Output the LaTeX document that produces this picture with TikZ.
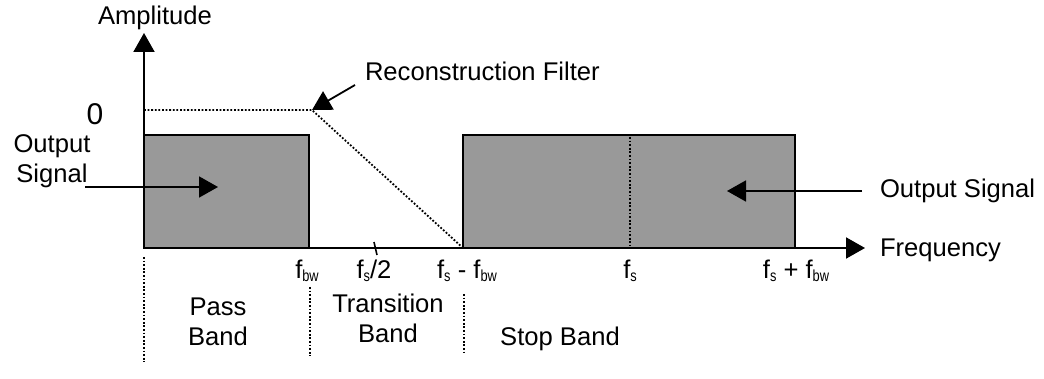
\documentclass[tikz,border=0pt]{standalone}
\usepackage{fontspec}
\setmainfont{Liberation Sans}
\usetikzlibrary{arrows.meta}
\newcommand{\sbs}[1]{\raisebox{-3pt}{\scalebox{0.8}[1]{\fontsize{16}{16}\selectfont #1}}}
\definecolor{bandgray}{HTML}{999999}
\begin{document}
\begin{tikzpicture}[x=1pt,y=-1pt,
  font=\fontsize{25.6}{30}\selectfont,
  tip/.style={-{Triangle[length=19pt,width=21pt]}},
  axis/.style={line width=2pt, tip},
  pointer/.style={line width=1.8pt, tip},
  band/.style={draw=black, line width=2pt, fill=bandgray},
  dots/.style={line width=1.8pt, dash pattern=on 1.8pt off 1.8pt},
  lbl/.style={inner sep=0pt, outer sep=0pt},
  flbl/.style={lbl, anchor=base}]
\useasboundingbox (0,0) rectangle (1044,379);

% geometric points
\coordinate (O) at (144,248);
\coordinate (ytop) at (144,33);
\coordinate (xend) at (865,248);
\coordinate (knee) at (312,110);
\coordinate (lev) at (144,110);
\coordinate (stopL) at (463,248);

% bands
\draw[band] (144,135) rectangle (309,248);
\draw[band] (463,135) rectangle (795,248);
\draw[dots] (630,137) -- (630,246);

% reconstruction filter
\draw[dots] (lev) -- (knee) -- (stopL);

% axes
\draw[axis] (O) -- (ytop);
\draw[axis] (O) -- (xend);
\draw[line width=1.6pt] (374,242) -- (377,255);

% texts
\node[lbl, anchor=base] (amp) at (155,25) {Amplitude};
\node[lbl, anchor=center, font=\fontsize{30}{30}\selectfont] (zero) at (95,114) {0};
\node[lbl, anchor=base west] (rf) at (365,81) {Reconstruction Filter};
\node[lbl, anchor=base west] (freq) at (880,257) {Frequency};
\node[lbl, anchor=base west] (osr) at (880,198) {Output Signal};
\node[lbl, anchor=base, align=center] (osl) at (52,183) {Output\\Signal};

\coordinate (rfa) at (355,85);
\coordinate (osla) at (85,187);
\coordinate (oslt) at (218,187);
\coordinate (osra) at (862,191);
\coordinate (osrt) at (727,191);
\draw[pointer] (rfa) -- (knee);
\draw[pointer] (osla) -- (oslt);
\draw[pointer] (osra) -- (osrt);

% frequency labels
\node[flbl] (fbw) at (307,279) {f\sbs{bw}};
\node[flbl] (fs2) at (374,279) {f\sbs{s}/2};
\node[flbl] (fsm) at (467,279) {f\sbs{s} - f\sbs{bw}};
\node[flbl] (fs) at (630,279) {f\sbs{s}};
\node[flbl] (fsp) at (796,279) {f\sbs{s} + f\sbs{bw}};

% band dividers
\draw[dots] (144,257) -- (144,362);
\draw[dots] (310,287) -- (310,356);
\draw[dots] (464,294) -- (464,354);

\node[flbl, align=center] (pass) at (218,345) {Pass\\Band};
\node[flbl, align=center] (trans) at (388,342) {Transition\\Band};
\node[flbl] (stop) at (560,345) {Stop Band};
\end{tikzpicture}
\end{document}
